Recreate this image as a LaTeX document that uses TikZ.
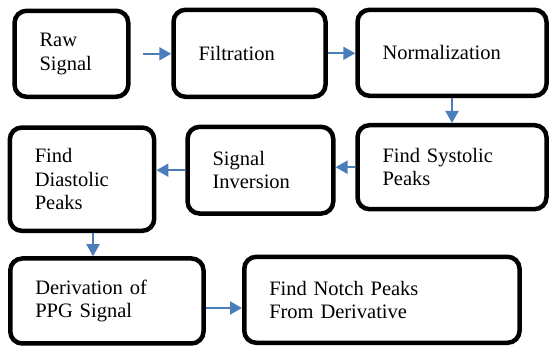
\documentclass[tikz,border=0pt]{standalone}
\usepackage{fontspec}
\setmainfont{Liberation Serif}
\usepackage{tikz}
\usetikzlibrary{arrows.meta,calc,positioning}
\definecolor{Flow}{HTML}{4A7EBB}

\begin{document}
\begin{tikzpicture}[x=1pt, y=1pt,
    stage/.style={draw=black, line width=4.5pt, rounded corners=12pt, fill=white,
      align=left, inner xsep=25pt, inner ysep=0pt,
      font=\fontsize{20.5}{23.5}\selectfont},
    flow/.style={-{Triangle[length=12pt,width=13pt]}, line width=2pt, color=Flow}]
    \useasboundingbox (0,0) rectangle (549,347);
    \node[stage, text width=63.7pt, minimum height=86pt] (raw) at (71.4,293.2) {Raw\\Signal};
    \node[stage, text width=102pt, minimum height=87pt] (filt) at (249.5,293.7) {Filtration};
    \node[stage, text width=139pt, minimum height=86pt] (norm) at (452,294.2) {Normalization};
    \node[stage, text width=139pt, minimum height=84pt] (sys) at (452,179.8) {Find Systolic\\Peaks};
    \node[stage, text width=95.7pt, minimum height=86.7pt] (inv) at (260.4,176.8) {Signal\\Inversion};
    \node[stage, text width=94.4pt, minimum height=103.3pt] (dia) at (82,167.8) {Find\\Diastolic\\Peaks};
    \node[stage, text width=143.3pt, minimum height=85pt] (der) at (106.9,46) {Derivation of\\PPG Signal};
    \node[stage, text width=225.3pt, minimum height=86pt] (notch) at (381.9,47.2) {Find Notch Peaks\\From Derivative};
    \draw[flow] ([xshift=12pt]raw.east) -- (raw.east -| filt.west);
    \draw[flow] (filt.east) -- (filt.east -| norm.west);
    \draw[flow] (norm.south) -- (sys.north);
    \draw[flow] (sys.west) -- (sys.west -| inv.east);
    \draw[flow] (inv.west) -- (inv.west -| dia.east);
    \draw[flow] ([xshift=11pt]dia.south) -- ([xshift=11pt]dia.south |- der.north);
    \draw[flow] ([yshift=-7pt]der.east) -- ([yshift=-7pt]der.east -| notch.west);
  \end{tikzpicture}
\end{document}
